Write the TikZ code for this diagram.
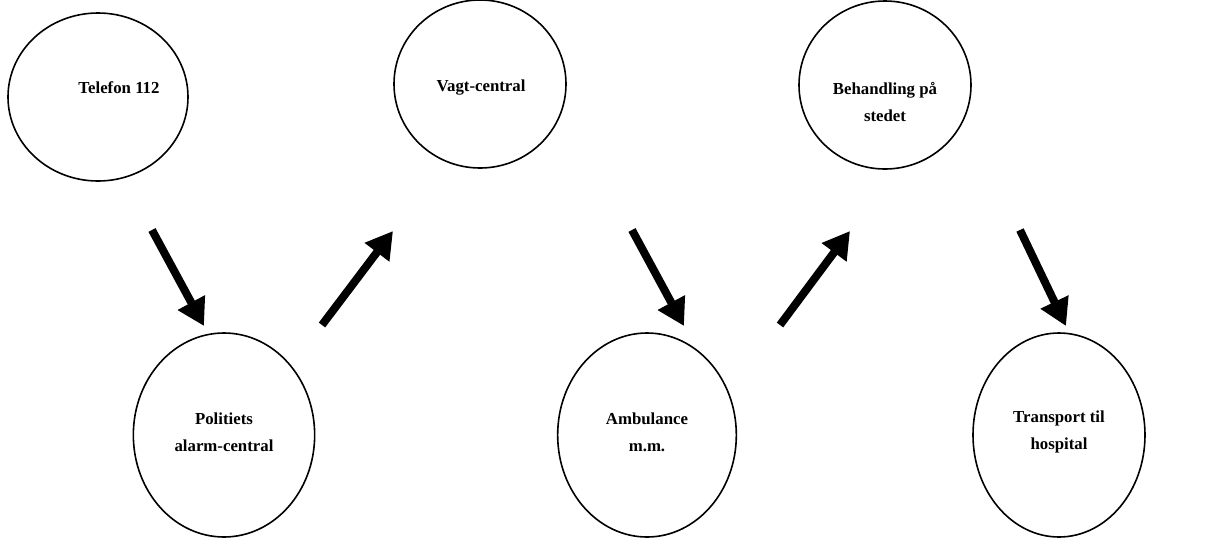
\documentclass[tikz,border=0pt]{standalone}
\usepackage{fontspec}
\setmainfont{Liberation Serif}
\usetikzlibrary{shapes.geometric,arrows.meta}

\tikzset{
  boble/.style={ellipse, draw, line width=1.2pt, inner sep=0pt},
  tekst/.style={align=center, font=\fontsize{12.6}{20.5}\selectfont\bfseries},
  pil/.style={line width=6pt, -{Triangle[length=20pt,width=22pt]}}
}

\begin{document}
\begin{tikzpicture}[x=0.75pt, y=-0.75pt]
    \useasboundingbox (0,0) rectangle (1208,540);
%% ellipserne, oeverste raekke
    \node[boble, minimum width=135pt, minimum height=126pt] (tlf) at (98,97) {};
    \node[boble, minimum width=129pt, minimum height=126pt] (vagt) at (480,84) {};
    \node[boble, minimum width=129pt, minimum height=126pt] (beh) at (885,85) {};
%% nederste raekke
    \node[boble, minimum width=136pt, minimum height=153pt] (pol) at (224,435) {};
    \node[boble, minimum width=134pt, minimum height=153pt] (amb) at (647,435) {};
    \node[boble, minimum width=129pt, minimum height=153pt] (trans) at (1059,435) {};
%% tekster
    \node[tekst] (tlf-t) at (119,88) {Telefon 112};
    \node[tekst] (vagt-t) at (481,88) {Vagt-central};
    \node[tekst] (beh-t) at (885,102) {Behandling på\\stedet};
    \node[tekst] (pol-t) at (224,432) {Politiets\\alarm-central};
    \node[tekst] (amb-t) at (647,432) {Ambulance\\m.m.};
    \node[tekst] (trans-t) at (1059,432) {Transport til\\hospital};
%% pilene
    \coordinate (p1a) at (152,230); \coordinate (p1b) at (204,326);
    \coordinate (p2a) at (322,325); \coordinate (p2b) at (393,231);
    \coordinate (p3a) at (632,230); \coordinate (p3b) at (684,326);
    \coordinate (p4a) at (780,325); \coordinate (p4b) at (850,231);
    \coordinate (p5a) at (1020,230); \coordinate (p5b) at (1066,326);
    \draw[pil] (p1a) -- (p1b);
    \draw[pil] (p2a) -- (p2b);
    \draw[pil] (p3a) -- (p3b);
    \draw[pil] (p4a) -- (p4b);
    \draw[pil] (p5a) -- (p5b);
\end{tikzpicture}
\end{document}
